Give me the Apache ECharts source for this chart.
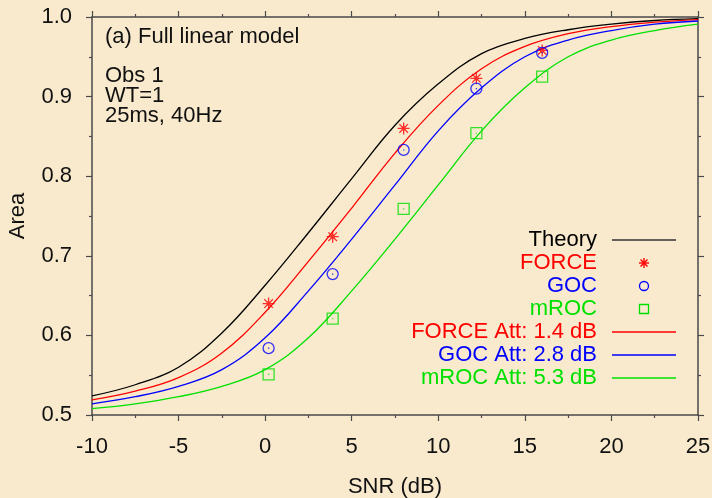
<!DOCTYPE html>
<html>
<head>
<meta charset="utf-8">
<script src="https://cdn.jsdelivr.net/npm/echarts@6/dist/echarts.min.js"></script>
<style>
  html, body { margin: 0; padding: 0; background: #f9eacd; }
  #main { width: 712px; height: 498px; }
</style>
</head>
<body>
<div id="main"></div>
<script>
// curves, every 2.5 dB
var snrGrid = [-10, -7.5, -5, -2.5, 0, 2.5, 5, 7.5, 10, 12.5, 15, 17.5, 20, 22.5, 25];
var theory  = [0.524, 0.538, 0.560, 0.603, 0.663, 0.729, 0.797, 0.864, 0.916, 0.954, 0.973, 0.984, 0.991, 0.9956, 0.9979];
var forceAtt = [0.519, 0.530, 0.547, 0.578, 0.629, 0.693, 0.760, 0.829, 0.889, 0.935, 0.963, 0.979, 0.988, 0.9935, 0.9968];
var gocAtt   = [0.514, 0.523, 0.536, 0.557, 0.597, 0.656, 0.721, 0.789, 0.857, 0.911, 0.950, 0.971, 0.983, 0.991, 0.995];
var mrocAtt  = [0.508, 0.514, 0.523, 0.536, 0.557, 0.597, 0.656, 0.721, 0.789, 0.857, 0.911, 0.950, 0.971, 0.983, 0.991];

// measured points
var snrPts = [0.2, 3.9, 8.0, 12.2, 16.0];
var force  = [0.640, 0.724, 0.860, 0.923, 0.958];
var goc    = [0.584, 0.677, 0.833, 0.910, 0.955];
var mroc   = [0.551, 0.621, 0.759, 0.854, 0.925];

var legendNames = ['Theory', 'FORCE', 'GOC', 'mROC', 'FORCE Att: 1.4 dB', 'GOC Att: 2.8 dB', 'mROC Att: 5.3 dB'];

var RED = '#ff0000', BLUE = '#0000ff', GREEN = '#00e000', BLACK = '#000000';
var FONT = '"Liberation Sans", Arial, sans-serif';

function pairs(xs, ys) {
    var out = [];
    for (var i = 0; i < xs.length; i++) out.push([xs[i], ys[i]]);
    return out;
}

var STAR = 'path://M0,-6L0,6M-6,0L6,0M-4.3,-4.3L4.3,4.3M-4.3,4.3L4.3,-4.3M-1.5,-1.5L1.5,-1.5L1.5,1.5L-1.5,1.5Z';
var RING = 'path://M0,-5A5,5 0 1 1 0,5A5,5 0 1 1 0,-5ZM0,-0.5L0,0.5';
var SQUARE = 'path://M-5,-5L5,-5L5,5L-5,5ZM0,-0.5L0,0.5';

function curve(name, ys, color) {
    return {
        name: name, type: 'line', data: pairs(snrGrid, ys),
        smooth: 0.4, showSymbol: false, silent: true,
        lineStyle: { color: color, width: 1.3 }, z: 2
    };
}
function points(name, ys, symbol, size, color) {
    return {
        name: name, type: 'scatter', data: pairs(snrPts, ys),
        symbol: symbol, symbolSize: size, silent: true,
        itemStyle: { color: 'rgba(0,0,0,0)', borderColor: color, borderWidth: 1.3 }, z: 3
    };
}

var axisLine = { show: true, onZero: false, lineStyle: { color: '#4a4a4a', width: 1.5 } };
var tick = { show: true, inside: false, length: 6, lineStyle: { color: '#4a4a4a', width: 1.2 } };
var minor = { show: true, splitNumber: 2, length: 3, lineStyle: { color: '#4a4a4a', width: 1.2 } };
var labelFont = { color: '#111', fontSize: 22, fontFamily: FONT };

// legend built by hand: right-aligned text, symbol column
var rowY = [240, 263, 286, 309, 332, 355, 378];
var rowColor = [BLACK, RED, BLUE, GREEN, RED, BLUE, GREEN];
var legendEls = [];
for (var i = 0; i < legendNames.length; i++) {
    legendEls.push({
        type: 'text', x: 597, y: rowY[i],
        style: { text: legendNames[i], fill: rowColor[i], font: '22px ' + FONT, align: 'right', verticalAlign: 'middle' }
    });
}
[0, 4, 5, 6].forEach(function (k) {
    legendEls.push({
        type: 'line', shape: { x1: 612, y1: rowY[k], x2: 676, y2: rowY[k] },
        style: { stroke: k === 0 ? '#333' : rowColor[k], lineWidth: 1.3 }
    });
});
legendEls.push({
    type: 'group', x: 644, y: rowY[1], children: [
        { type: 'line', shape: { x1: 0, y1: -5, x2: 0, y2: 5 }, style: { stroke: RED, lineWidth: 1.4 } },
        { type: 'line', shape: { x1: -5, y1: 0, x2: 5, y2: 0 }, style: { stroke: RED, lineWidth: 1.4 } },
        { type: 'line', shape: { x1: -3.5, y1: -3.5, x2: 3.5, y2: 3.5 }, style: { stroke: RED, lineWidth: 1.4 } },
        { type: 'line', shape: { x1: -3.5, y1: 3.5, x2: 3.5, y2: -3.5 }, style: { stroke: RED, lineWidth: 1.4 } }
    ]
});
legendEls.push({ type: 'circle', shape: { cx: 644, cy: rowY[2], r: 4.5 }, style: { fill: 'none', stroke: BLUE, lineWidth: 1.3 } });
legendEls.push({ type: 'rect', shape: { x: 639.5, y: rowY[3] - 4.5, width: 9, height: 9 }, style: { fill: 'none', stroke: GREEN, lineWidth: 1.3 } });

var chart = echarts.init(document.getElementById('main'), null, { renderer: 'canvas' });

var option = {
    backgroundColor: '#f9eacd',
    animation: false,
    grid: { left: 92, right: 14, top: 17, bottom: 83, outerBoundsMode: 'none' },
    xAxis: [{
        type: 'value', min: -10, max: 25, interval: 5,
        name: 'SNR (dB)', nameLocation: 'middle', nameGap: 61,
        nameTextStyle: { color: '#111', fontSize: 22, fontFamily: FONT },
        axisLine: axisLine, axisTick: tick, minorTick: minor,
        axisLabel: Object.assign({ margin: 21 }, labelFont),
        splitLine: { show: false }
    }, {
        type: 'value', position: 'top', min: -10, max: 25, interval: 5,
        axisLine: axisLine, axisTick: tick, minorTick: minor,
        axisLabel: { show: false }, splitLine: { show: false }
    }],
    yAxis: [{
        type: 'value', min: 0.5, max: 1.0, interval: 0.1,
        name: 'Area', nameLocation: 'middle', nameGap: 63,
        nameTextStyle: { color: '#111', fontSize: 22, fontFamily: FONT },
        axisLine: axisLine, axisTick: tick, minorTick: minor,
        axisLabel: Object.assign({ margin: 20, formatter: function (v) { return v.toFixed(1); } }, labelFont),
        splitLine: { show: false }
    }, {
        type: 'value', position: 'right', min: 0.5, max: 1.0, interval: 0.1,
        axisLine: axisLine, axisTick: tick, minorTick: minor,
        axisLabel: { show: false }, splitLine: { show: false }
    }],
    graphic: [
        { type: 'text', x: 105, y: 37, style: { text: '(a) Full linear model', fill: '#111', font: '22px ' + FONT, verticalAlign: 'middle' } },
        { type: 'text', x: 105, y: 66, style: { text: 'Obs 1\nWT=1\n25ms, 40Hz', fill: '#111', font: '22px ' + FONT, lineHeight: 20, verticalAlign: 'top' } }
    ].concat(legendEls),
    series: [
        curve('Theory', theory, BLACK),
        curve('FORCE Att: 1.4 dB', forceAtt, RED),
        curve('GOC Att: 2.8 dB', gocAtt, BLUE),
        curve('mROC Att: 5.3 dB', mrocAtt, GREEN),
        points('FORCE', force, STAR, 12, RED),
        points('GOC', goc, RING, 11, BLUE),
        points('mROC', mroc, SQUARE, 11, GREEN)
    ]
};
chart.setOption(option);
</script>
</body>
</html>
